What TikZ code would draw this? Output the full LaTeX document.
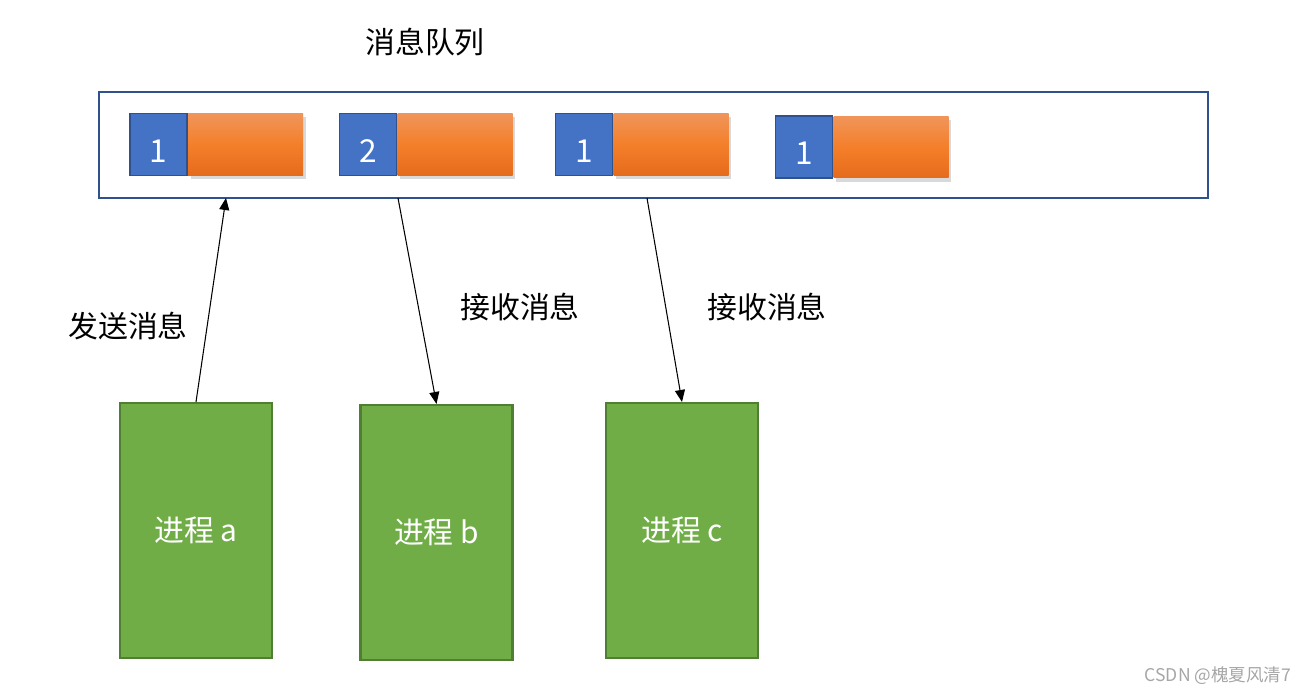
\documentclass[tikz,border=0pt]{standalone}
\usepackage{fontspec}
\setmainfont{Noto Sans CJK SC}
\usepackage{xcolor}
\usetikzlibrary{arrows.meta, positioning, calc, shadows}

\definecolor{msgblue}{HTML}{4472C4}
\definecolor{msgedge}{HTML}{2F528F}
\definecolor{bodytop}{HTML}{F0955A}
\definecolor{bodymid}{HTML}{F47F2A}
\definecolor{bodybot}{HTML}{E56B1C}
\definecolor{procgreen}{HTML}{70AD47}
\definecolor{procedge}{HTML}{507E32}

\tikzset{
  tag/.style={draw=msgedge, line width=1pt, fill=msgblue, text=white,
    minimum width=1.14cm, minimum height=1.24cm, inner sep=0pt,
    text height=0.71cm, text depth=0cm,
    font=\fontsize{18pt}{20pt}\selectfont},
  body/.style={top color=bodytop, bottom color=bodybot, middle color=bodymid,
    minimum width=2.3cm, minimum height=1.24cm, inner sep=0pt,
    drop shadow={shadow xshift=1.5pt, shadow yshift=-2pt, opacity=0.3}},
  proc/.style={draw=procedge, line width=1.2pt, fill=procgreen, text=white,
    minimum width=3.04cm, minimum height=5.1cm, inner sep=0pt,
    font=\fontsize{17pt}{20pt}\selectfont},
  lbl/.style={font=\fontsize{17pt}{20pt}\selectfont},
  msgarrow/.style={-{Triangle[length=2.4mm,width=2mm]}, line width=0.6pt}
}

\begin{document}
\begin{tikzpicture}[x=0.02cm, y=-0.02cm]
\useasboundingbox (0,0) rectangle (1312,695);

% the queue
\node[draw=msgedge, line width=1.2pt, minimum width=22.18cm, minimum height=2.12cm,
  inner sep=0pt] (queue) at (653.5,145) {};
\node[lbl] (qtitle) at (425,42) {消息队列};

% messages in the queue
\node[tag] (tag1) at (158.5,144.5) {1};
\node[body, right=0pt of tag1] (body1) {};
\node[tag] (tag2) at (368,144.5) {2};
\node[body, right=0pt of tag2] (body2) {};
\node[tag] (tag3) at (584,144.5) {1};
\node[body, right=0pt of tag3] (body3) {};
\node[tag] (tag4) at (804,147) {1};
\node[body, right=0pt of tag4] (body4) {};

% processes
\node[proc] (procA) at (196,530.5) {进程 a};
\node[proc] (procB) at (436.5,532.5) {进程 b};
\node[proc] (procC) at (682,530.5) {进程 c};

% where the arrows meet the queue
\coordinate (inA) at (226,198);
\coordinate (outB) at (398,198);
\coordinate (outC) at (647,198);

\draw[msgarrow] (procA.north) -- (inA);
\draw[msgarrow] (outB) -- (procB.north);
\draw[msgarrow] (outC) -- (procC.north);

\node[lbl] (sendA) at (128,326) {发送消息};
\node[lbl] (recvB) at (520,307) {接收消息};
\node[lbl] (recvC) at (767,307) {接收消息};

\node[text=gray!70, font=\fontsize{10pt}{12pt}\selectfont] (mark) at (1218,676) {CSDN @槐夏风清7};
\end{tikzpicture}
\end{document}
